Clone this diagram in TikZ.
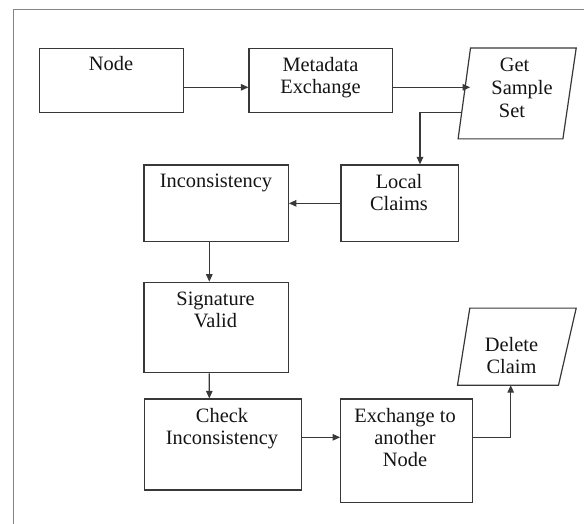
\documentclass[tikz,border=0pt]{standalone}
\usepackage{fontspec}
\setmainfont{Liberation Serif}
\usetikzlibrary{arrows.meta}

\tikzset{
  box/.style={draw=black!78, line width=1.2pt, rectangle, inner sep=0pt},
  shell/.style={draw=none, rectangle, inner sep=0pt},
  shapeline/.style={draw=black!78, line width=1.2pt},
  % multi-line labels sit on the baseline of their last line
  txt/.style={anchor=base, align=center, inner sep=0pt, text=black!92,
              font=\fontsize{20.4}{22}\selectfont},
  flow/.style={draw=black!78, line width=1.2pt,
               -{Triangle[length=7.5pt,width=6.5pt]}},
  frameline/.style={draw=black!48, line width=1.5pt}
}

\begin{document}
\begin{tikzpicture}[x=1pt,y=-1pt]
\useasboundingbox (0,0) rectangle (584,524);

% outer frame (top and left edges)
\draw[frameline] (584,9.3) -- (13.3,9.3) -- (13.3,524);

% process boxes
\node[box, minimum width=144.4pt, minimum height=64.4pt] (nd)   at (111.5,80.5)   {};
\node[box, minimum width=143.3pt, minimum height=64.4pt] (meta) at (320.65,80.5)  {};
\node[box, minimum width=117.3pt, minimum height=76.7pt] (lc)   at (399.65,203.35) {};
\node[box, minimum width=144.3pt, minimum height=76.7pt] (inc)  at (216.15,203.35) {};
\node[box, minimum width=144.3pt, minimum height=90.4pt] (sig)  at (216.15,327.5)  {};
\node[box, minimum width=157.4pt, minimum height=91pt]   (chk)  at (223,444.5)    {};
\node[box, minimum width=131.6pt, minimum height=103.7pt] (exch) at (406.5,450.85) {};

% data (parallelogram) shapes
\node[shell, minimum width=117.7pt, minimum height=90.4pt] (gs) at (517.15,93.5) {};
\draw[shapeline]
  (gs.south west) -- ([xshift=-13.3pt]gs.south east) -- (gs.north east)
  -- ([xshift=12.4pt]gs.north west) -- cycle;

\node[shell, minimum width=118.3pt, minimum height=76.7pt] (del) at (516.85,346.65) {};
\draw[shapeline]
  (del.south west) -- ([xshift=-17.7pt]del.south east) -- (del.north east)
  -- ([xshift=12.3pt]del.north west) -- cycle;

% labels
\node[txt] (ndT)   at (111,70.7)   {Node};
\node[txt] (metaT) at (320.5,94)   {Metadata\\Exchange};
\node[txt] (gsT1)  at (514.5,71.7) {Get};
\node[txt] (gsT2)  at (522,94.5)   {Sample};
\node[txt] (gsT3)  at (512,117.5)  {Set};
\node[txt] (incT)  at (216,187.3)  {Inconsistency};
\node[txt] (lcT)   at (399,210.8)  {Local\\Claims};
\node[txt] (sigT)  at (215.5,327)  {Signature\\Valid};
\node[txt] (chkT)  at (222,444.5)  {Check\\Inconsistency};
\node[txt] (exchT) at (405,466.7)  {Exchange to\\another\\Node};
\node[txt] (delT)  at (511.5,373.8) {Delete\\Claim};

% connectors
\draw[flow] ([yshift=-6.8pt]nd.east) -- ([yshift=-6.8pt]meta.west);
\coordinate (gsIn) at ([xshift=-47pt,yshift=6.2pt]gs.center);
\draw[flow] ([yshift=-6.8pt]meta.east) -- (gsIn);
\coordinate (gsOut) at ([xshift=-55.5pt,yshift=-19.2pt]gs.center);
\draw[flow] (gsOut) -| ([xshift=20.35pt]lc.north);
\draw[flow] (lc.west) -- (inc.east);
\draw[flow] ([xshift=-6.85pt]inc.south) -- ([xshift=-6.85pt]sig.north);
\draw[flow] ([xshift=-6.85pt]sig.south) -- ([xshift=-13.7pt]chk.north);
\draw[flow] ([yshift=7.2pt]chk.east) -- ([yshift=13.55pt]exch.west);
\draw[flow] ([yshift=13.55pt]exch.east) -| ([xshift=-6.15pt]del.south);
\end{tikzpicture}
\end{document}
